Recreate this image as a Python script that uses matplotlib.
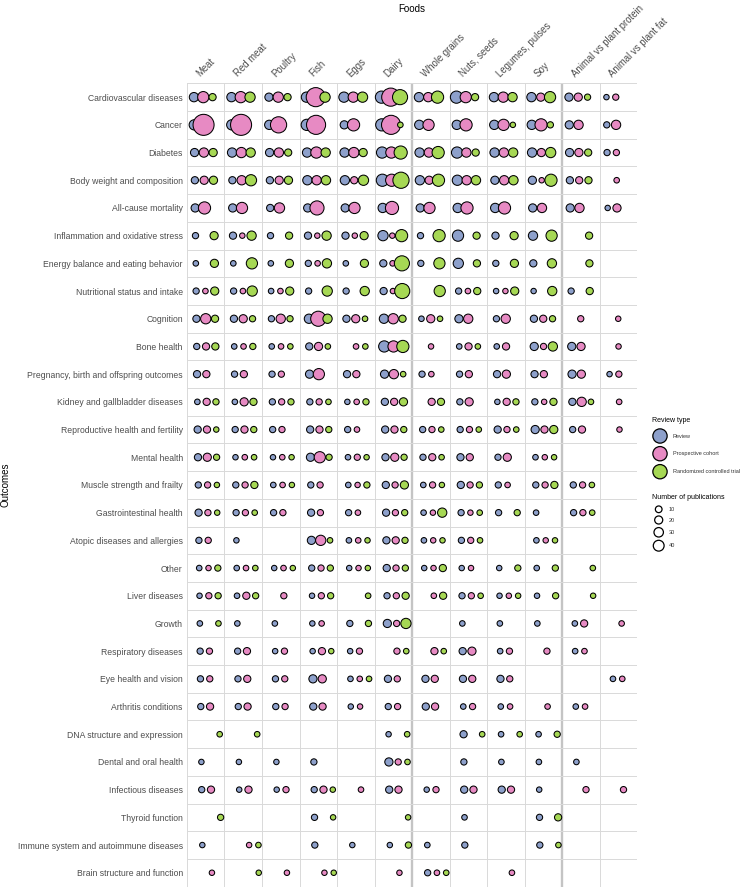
import numpy as np
import matplotlib.pyplot as plt

plt.rcParams['font.family'] = ['Liberation Sans', 'DejaVu Sans']

foods = ["Meat", "Red meat", "Poultry", "Fish", "Eggs", "Dairy", "Whole grains",
         "Nuts, seeds", "Legumes, pulses", "Soy", "Animal vs plant protein",
         "Animal vs plant fat"]
outcomes = ["Cardiovascular diseases", "Cancer", "Diabetes", "Body weight and composition",
            "All-cause mortality", "Inflammation and oxidative stress",
            "Energy balance and eating behavior", "Nutritional status and intake",
            "Cognition", "Bone health", "Pregnancy, birth and offspring outcomes",
            "Kidney and gallbladder diseases", "Reproductive health and fertility",
            "Mental health", "Muscle strength and frailty", "Gastrointestinal health",
            "Atopic diseases and allergies", "Other", "Liver diseases", "Growth",
            "Respiratory diseases", "Eye health and vision", "Arthritis conditions",
            "DNA structure and expression", "Dental and oral health", "Infectious diseases",
            "Thyroid function", "Immune system and autoimmune diseases",
            "Brain structure and function"]
review_types = ["Review", "Prospective cohort", "Randomized controlled trial"]
type_colors = ["#8DA0CB", "#E78AC3", "#A6D854"]
legend_counts = [10, 20, 30, 40]

# number of publications per outcome (rows) and food (columns)
review = np.array([
    [29, 29, 21, 36, 36, 50, 29, 50, 29, 29, 21, 1],
    [36, 36, 29, 43, 21, 50, 29, 29, 29, 29, 21, 7],
    [21, 29, 21, 29, 29, 43, 29, 43, 29, 29, 21, 7],
    [14, 14, 14, 29, 29, 50, 29, 36, 21, 21, 14, 0],
    [21, 21, 14, 21, 21, 29, 21, 29, 29, 21, 21, 1],
    [7, 14, 7, 14, 14, 36, 7, 43, 14, 29, 0, 0],
    [2, 2, 2, 7, 2, 14, 7, 36, 7, 14, 0, 0],
    [7, 7, 2, 7, 7, 14, 0, 7, 1, 1, 7, 0],
    [14, 14, 7, 29, 14, 29, 2, 21, 7, 14, 0, 0],
    [7, 2, 2, 14, 0, 43, 0, 2, 2, 21, 21, 0],
    [14, 7, 7, 21, 14, 21, 7, 7, 14, 14, 21, 1],
    [2, 2, 7, 7, 1, 14, 0, 7, 1, 7, 14, 0],
    [14, 7, 7, 14, 7, 14, 7, 7, 14, 21, 7, 0],
    [14, 1, 1, 21, 2, 14, 7, 14, 7, 2, 0, 0],
    [7, 7, 2, 7, 2, 14, 2, 14, 7, 7, 7, 0],
    [14, 7, 7, 14, 7, 14, 2, 7, 7, 2, 7, 0],
    [7, 1, 0, 21, 2, 14, 2, 7, 0, 2, 0, 0],
    [2, 2, 1, 7, 1, 14, 1, 1, 1, 2, 0, 0],
    [1, 2, 0, 1, 0, 7, 0, 7, 1, 1, 0, 0],
    [2, 2, 2, 1, 7, 21, 0, 2, 2, 2, 2, 0],
    [7, 7, 1, 1, 1, 0, 0, 14, 2, 0, 2, 0],
    [7, 7, 7, 21, 2, 14, 14, 14, 14, 0, 0, 2],
    [7, 7, 7, 14, 1, 7, 14, 2, 2, 0, 2, 0],
    [0, 0, 0, 0, 0, 1, 0, 14, 2, 2, 0, 0],
    [1, 1, 1, 7, 0, 21, 0, 7, 2, 2, 2, 0],
    [7, 1, 1, 7, 0, 14, 1, 14, 14, 1, 0, 0],
    [0, 0, 0, 7, 0, 0, 0, 2, 0, 7, 0, 0],
    [1, 0, 0, 7, 1, 1, 2, 7, 0, 7, 0, 0],
    [0, 0, 0, 0, 0, 0, 7, 0, 0, 0, 0, 0],
])
cohort = np.array([
    [43, 43, 36, 100, 36, 93, 29, 43, 36, 21, 21, 7],
    [114, 114, 79, 100, 50, 100, 43, 50, 43, 50, 29, 29],
    [29, 36, 29, 43, 36, 43, 29, 29, 29, 21, 21, 7],
    [21, 29, 21, 29, 14, 50, 21, 29, 29, 1, 14, 2],
    [50, 43, 36, 64, 43, 57, 43, 50, 50, 29, 29, 21],
    [0, 1, 0, 1, 1, 1, 0, 0, 0, 0, 0, 0],
    [0, 0, 0, 2, 0, 2, 0, 0, 0, 0, 0, 0],
    [2, 2, 2, 0, 0, 1, 0, 2, 1, 0, 0, 0],
    [36, 21, 29, 71, 21, 36, 21, 29, 29, 14, 7, 1],
    [14, 2, 2, 21, 2, 43, 1, 14, 14, 7, 21, 1],
    [14, 14, 7, 43, 14, 29, 2, 14, 21, 14, 21, 7],
    [14, 21, 7, 7, 2, 14, 14, 21, 14, 1, 29, 2],
    [14, 14, 7, 14, 2, 14, 7, 7, 7, 14, 14, 1],
    [21, 2, 2, 43, 7, 21, 14, 14, 21, 1, 0, 0],
    [7, 7, 2, 7, 1, 7, 7, 7, 2, 7, 7, 0],
    [7, 7, 7, 7, 2, 7, 1, 1, 0, 0, 7, 0],
    [7, 0, 0, 36, 2, 14, 1, 7, 0, 1, 0, 0],
    [1, 2, 2, 7, 1, 7, 1, 1, 0, 0, 0, 0],
    [7, 14, 7, 7, 0, 7, 2, 7, 1, 0, 0, 0],
    [0, 0, 0, 2, 0, 7, 0, 0, 0, 0, 14, 2],
    [7, 14, 7, 14, 7, 7, 14, 21, 7, 7, 2, 0],
    [7, 14, 7, 21, 2, 7, 14, 14, 7, 0, 0, 2],
    [14, 14, 7, 14, 1, 7, 14, 7, 2, 2, 2, 0],
    [0, 0, 0, 0, 0, 0, 0, 0, 0, 0, 0, 0],
    [0, 0, 0, 0, 0, 7, 0, 0, 0, 0, 0, 0],
    [14, 14, 7, 14, 2, 14, 7, 14, 14, 0, 7, 7],
    [0, 0, 0, 0, 0, 0, 0, 0, 0, 0, 0, 0],
    [0, 1, 0, 0, 0, 0, 0, 0, 0, 0, 0, 0],
    [1, 0, 1, 1, 0, 1, 2, 0, 2, 0, 0, 0],
])
rct = np.array([
    [14, 36, 14, 36, 36, 71, 50, 14, 29, 43, 7, 0],
    [0, 0, 0, 0, 0, 2, 0, 0, 1, 7, 0, 0],
    [21, 29, 14, 29, 21, 57, 50, 14, 29, 36, 14, 0],
    [21, 43, 21, 29, 36, 79, 50, 29, 29, 50, 14, 0],
    [0, 0, 0, 0, 0, 0, 0, 0, 0, 0, 0, 0],
    [21, 29, 14, 29, 21, 50, 50, 14, 21, 43, 14, 0],
    [21, 43, 21, 29, 21, 71, 43, 14, 21, 29, 14, 0],
    [21, 36, 21, 36, 29, 71, 43, 14, 21, 29, 14, 0],
    [14, 7, 7, 29, 2, 14, 2, 0, 0, 7, 0, 0],
    [14, 7, 2, 2, 2, 50, 0, 2, 0, 29, 0, 0],
    [0, 0, 0, 0, 0, 2, 0, 0, 0, 0, 0, 0],
    [7, 14, 7, 2, 7, 21, 14, 0, 7, 14, 2, 0],
    [1, 7, 0, 7, 0, 7, 2, 2, 2, 21, 0, 0],
    [7, 2, 1, 7, 1, 7, 2, 0, 0, 1, 0, 0],
    [1, 14, 1, 0, 7, 21, 1, 7, 0, 14, 2, 0],
    [1, 2, 0, 0, 0, 7, 29, 2, 7, 0, 2, 0],
    [0, 0, 0, 2, 1, 7, 1, 2, 0, 1, 0, 0],
    [7, 2, 1, 7, 1, 7, 14, 0, 7, 7, 2, 0],
    [7, 7, 0, 7, 2, 14, 14, 2, 1, 7, 1, 0],
    [2, 0, 0, 0, 7, 36, 0, 0, 0, 0, 0, 0],
    [0, 0, 0, 1, 0, 2, 2, 0, 0, 0, 0, 0],
    [0, 0, 0, 0, 2, 0, 0, 0, 0, 0, 0, 0],
    [0, 0, 0, 0, 0, 0, 0, 0, 0, 0, 0, 0],
    [2, 2, 0, 0, 0, 2, 0, 2, 2, 7, 0, 0],
    [0, 0, 0, 0, 0, 2, 0, 0, 0, 0, 0, 0],
    [0, 0, 0, 1, 0, 0, 0, 0, 0, 0, 0, 0],
    [7, 0, 0, 1, 0, 1, 0, 0, 0, 14, 0, 0],
    [0, 2, 0, 0, 0, 7, 0, 0, 0, 2, 0, 0],
    [0, 1, 0, 1, 0, 0, 2, 0, 0, 0, 0, 0],
])

DPI = 100
W, H = 740, 892
COL_PX = 37.5


def pub_size(n):
    # outer diameter in pixels grows linearly with the count
    d = 6.3 + 0.138 * np.asarray(n, dtype=float)
    return ((d - 1.0) * 72 / DPI) ** 2


fig = plt.figure(figsize=(W / DPI, H / DPI), dpi=DPI)
ax = fig.add_axes([187 / W, 1 - 886.6 / H, 450 / W, 803.3 / H])
ax.set_xlim(0, len(foods))
ax.set_ylim(len(outcomes), 0)

for i in range(len(foods) + 1):
    if i in (6, 10):
        ax.axvline(i, color="#c4c4c4", lw=1.7, zorder=1)
    else:
        ax.axvline(i, color="#d9d9d9", lw=0.7, zorder=1)
for j in range(len(outcomes) + 1):
    ax.axhline(j, color="#d9d9d9", lw=0.7, zorder=1)

for t, counts in enumerate([review, cohort, rct]):
    rows, cols = np.nonzero(counts)
    shift = (-11.8 + 9.3 * t + 0.31 * rows) / COL_PX
    ax.scatter(cols + 0.5 + shift, rows + 0.5, s=pub_size(counts[rows, cols]),
               c=type_colors[t], edgecolors="black", linewidths=0.75,
               zorder=3 + t, clip_on=False)

for sp in ax.spines.values():
    sp.set_visible(False)
ax.set_yticks(np.arange(len(outcomes)) + 0.5)
ax.set_yticklabels(outcomes)
ax.set_xticks([])
ax.tick_params(axis="y", length=0, pad=3, labelsize=6.2, labelcolor="#4d4d4d")

for i, food in enumerate(foods):
    ax.text(i + 0.4, -0.17, food, rotation=45, rotation_mode="anchor",
            ha="left", va="bottom", fontsize=6.9, color="#4d4d4d")

fig.text(412 / W, 1 - 9 / H, "Foods", ha="center", va="center", fontsize=7)
fig.text(6 / W, 1 - 485 / H, "Outcomes", rotation=90, ha="center", va="center",
         fontsize=7)

# legends, drawn in pixel coordinates
lax = fig.add_axes([0, 0, 1, 1], zorder=5)
lax.set_xlim(0, W)
lax.set_ylim(H, 0)
lax.axis("off")

lax.text(651.7, 420.7, "Review type", ha="left", va="center", fontsize=5)
key_y = [436, 453.7, 471.7]
lax.scatter([660] * 3, key_y, s=((15.3 - 1) * 72 / DPI) ** 2, c=type_colors,
            edgecolors="black", linewidths=0.9, clip_on=False)
for y, lab in zip(key_y, review_types):
    lax.text(672.7, y, lab, ha="left", va="center", fontsize=4, color="#333333")

lax.text(651.7, 497.7, "Number of publications", ha="left", va="center", fontsize=5)
size_y = [509.3, 520, 532.3, 545.7]
lax.scatter([658.7] * 4, size_y, s=pub_size(legend_counts), facecolors="white",
            edgecolors="black", linewidths=0.9, clip_on=False)
for y, n in zip(size_y, legend_counts):
    lax.text(669, y, str(n), ha="left", va="center", fontsize=4, color="#333333")

fig.savefig("out.png", dpi=DPI)
